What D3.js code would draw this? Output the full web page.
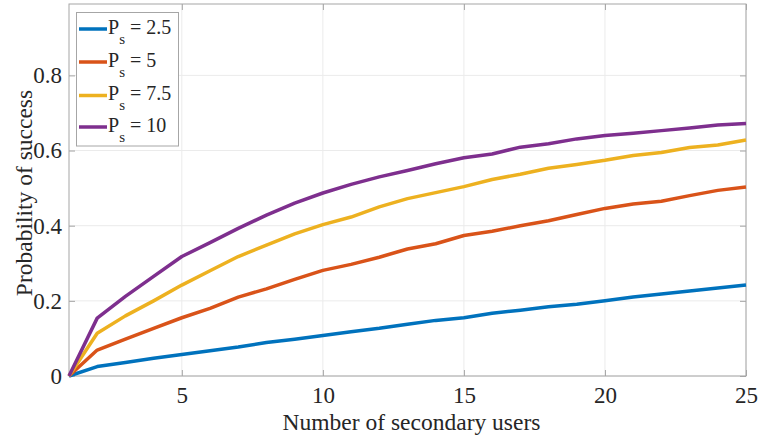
<!DOCTYPE html>
<html><head><meta charset="utf-8">
<script src="https://cdn.jsdelivr.net/npm/d3@7"></script>
<style>body{margin:0;background:#fff}svg{display:block}</style>
</head><body><svg id="c" width="761" height="443"></svg>
<script>
const users = d3.range(1, 26);
const ps25 = [0,0.025,0.036,0.047,0.057,0.067,0.077,0.089,0.098,0.108,0.118,0.127,0.138,0.148,0.155,0.167,0.175,0.184,0.191,0.200,0.210,0.218,0.226,0.234,0.242];
const ps5  = [0,0.069,0.098,0.127,0.155,0.180,0.210,0.232,0.257,0.281,0.297,0.316,0.338,0.352,0.374,0.385,0.400,0.413,0.430,0.446,0.458,0.465,0.480,0.494,0.503];
const ps75 = [0,0.114,0.160,0.200,0.242,0.280,0.318,0.348,0.378,0.403,0.423,0.450,0.472,0.488,0.504,0.523,0.537,0.553,0.563,0.574,0.587,0.595,0.608,0.615,0.628];
const ps10 = [0,0.154,0.212,0.265,0.318,0.355,0.393,0.428,0.460,0.487,0.510,0.530,0.547,0.565,0.581,0.591,0.609,0.618,0.631,0.640,0.646,0.653,0.660,0.668,0.672];
const seriesNames = ["2.5","5","7.5","10"];
const seriesColors = ["#0072BD","#D95319","#EDB120","#7E2F8E"];
const xTicks = [5,10,15,20,25];
const yTicks = [0,0.2,0.4,0.6,0.8];
const xLabel = "Number of secondary users";
const yLabel = "Probability of success";

const FONT = "Liberation Serif";
const series = [ps25, ps5, ps75, ps10];
const svg = d3.select("#c");
const L = 69, R = 746, T = 4, B = 376;
const x = d3.scaleLinear().domain([1,25]).range([L,R]);
const y = d3.scaleLinear().domain([0,0.99]).range([B,T]);

// grid
const g = svg.append("g");
g.selectAll(".gx").data(xTicks).join("line").attr("x1",d=>x(d)).attr("x2",d=>x(d)).attr("y1",T).attr("y2",B).attr("stroke","#ebebeb").attr("stroke-width",1);
g.selectAll(".gy").data(yTicks).join("line").attr("y1",d=>y(d)).attr("y2",d=>y(d)).attr("x1",L).attr("x2",R).attr("stroke","#ebebeb").attr("stroke-width",1);

// box
svg.append("rect").attr("x",L).attr("y",T).attr("width",R-L).attr("height",B-T).attr("fill","none").attr("stroke","#a6a6a6").attr("stroke-width",1);

// axes
const ax = svg.append("g").attr("transform",`translate(0,${B})`).call(d3.axisBottom(x).tickValues(xTicks).tickSize(-6).tickPadding(11));
const ax2 = svg.append("g").attr("transform",`translate(0,${T})`).call(d3.axisTop(x).tickValues(xTicks).tickSize(-6).tickFormat(""));
const ay = svg.append("g").attr("transform",`translate(${L},0)`).call(d3.axisLeft(y).tickValues(yTicks).tickSize(-6).tickPadding(7).tickFormat(d=>d===0?"0":d3.format(".1f")(d)));
const ay2 = svg.append("g").attr("transform",`translate(${R},0)`).call(d3.axisRight(y).tickValues(yTicks).tickSize(-6).tickFormat(""));
[ax,ax2,ay,ay2].forEach(a=>{
  a.attr("font-family",FONT).attr("font-size",23);
  a.select(".domain").remove();
  a.selectAll(".tick line").attr("stroke","#a6a6a6");
  a.selectAll("text").style("font-family",FONT).style("font-size","23px").attr("fill","#262626");
});

// lines
const line = d3.line().x((d,i)=>x(users[i])).y(d=>y(d));
series.forEach((s,k)=>{
  svg.append("path").datum(s).attr("d",line).attr("fill","none").attr("stroke",seriesColors[k]).attr("stroke-width",3.5).attr("stroke-linejoin","round");
});

// labels
svg.append("text").attr("x",(L+R)/2+4).attr("y",430).attr("text-anchor","middle").style("font-family",FONT).style("font-size","23.5px").style("fill","#262626").text(xLabel);
svg.append("text").attr("transform",`translate(32,193) rotate(-90)`).attr("text-anchor","middle").style("font-family",FONT).style("font-size","23.5px").style("fill","#262626").text(yLabel);

// legend
const lg = svg.append("g");
lg.append("rect").attr("x",76.5).attr("y",12.5).attr("width",102).attr("height",133.5).attr("fill","#fff").attr("stroke","#a6a6a6").attr("stroke-width",1);
const ly = [29,62,95.5,127];
seriesNames.forEach((n,k)=>{
  lg.append("line").attr("x1",79).attr("x2",107).attr("y1",ly[k]).attr("y2",ly[k]).attr("stroke",seriesColors[k]).attr("stroke-width",3.5);
  const t = lg.append("text").attr("x",108).attr("y",ly[k]+4.5).style("font-family",FONT).style("font-size","20px").style("fill","#262626");
  t.append("tspan").text("P");
  t.append("tspan").attr("dy",10).style("font-size","15px").text("s");
  t.append("tspan").attr("dy",-10).text(" = "+n);
});
</script></body></html>
